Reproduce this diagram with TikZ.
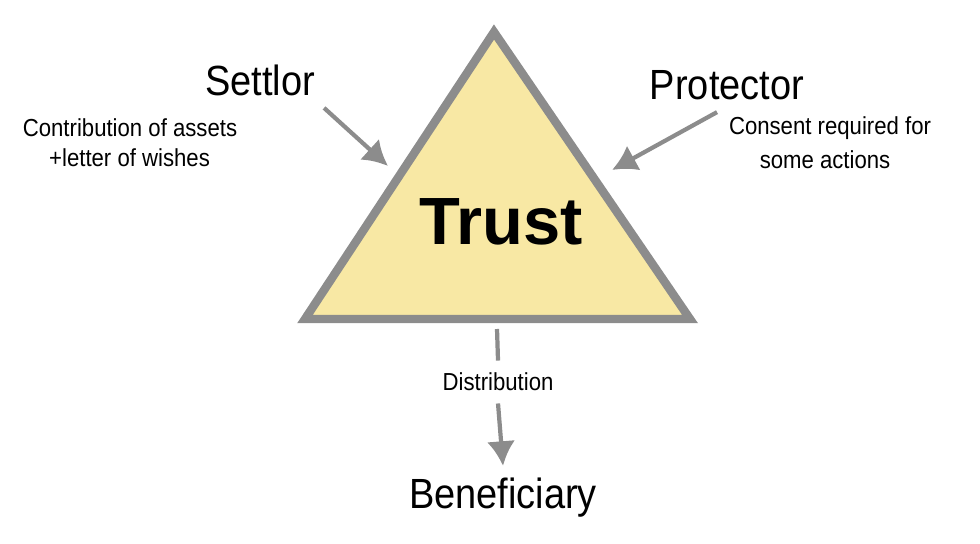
\documentclass[tikz,border=0pt]{standalone}
\usepackage{fontspec}
\setmainfont{Liberation Sans}
\usetikzlibrary{arrows.meta, positioning}
\definecolor{trustfill}{HTML}{F8E8A4}
\definecolor{edgegray}{HTML}{8C8C8C}
\begin{document}
\begin{tikzpicture}[x=0.01cm, y=-0.01cm]
	\tikzset{party/.style={font=\fontsize{12}{14}\selectfont, xscale=0.9},
		note/.style={font=\fontsize{7}{8.5}\selectfont, xscale=0.9, align=center},
		link/.style={edgegray, line width=1.2pt, -{Latex[length=7pt, width=8pt]}}}
	\useasboundingbox (0,0) rectangle (980,543);
	
	\draw[edgegray, line width=2.4pt, fill=trustfill, line join=miter]
		(494,32) -- (690,319) -- (305,319) -- cycle;
	\node (trust) at (501,222) {\fontsize{19}{22}\selectfont\bfseries Trust};
	
	\node[party] (settlor) at (260,80) {Settlor};
	\node[party] (protector) at (727,85) {Protector};
	\node[party] (benef) at (503,498) {Beneficiary};
	
	\node[note] (assets) at (130,128) {Contribution of assets};
	\node[note, anchor=west] (wishes) at (38,158) {+letter of wishes};
	\node[note] (consent) at (830,128) {Consent required for};
	\node[note] (actions) at (825,160) {some actions};
	\node[note] (distrib) at (498,382) {Distribution};
	
	\coordinate (sin) at (388,166);
	\coordinate (pin) at (612,170);
	\coordinate (tbase) at (497,329);
	
	\draw[link] (settlor.south east) ++(-2,0) -- (sin);
	\draw[link] (protector.south) ++(-10,0) -- (pin);
	\draw[edgegray, line width=1.2pt] (tbase) -- (distrib.north);
	\draw[link] (distrib.south) -- (benef.north);
\end{tikzpicture}
\end{document}
